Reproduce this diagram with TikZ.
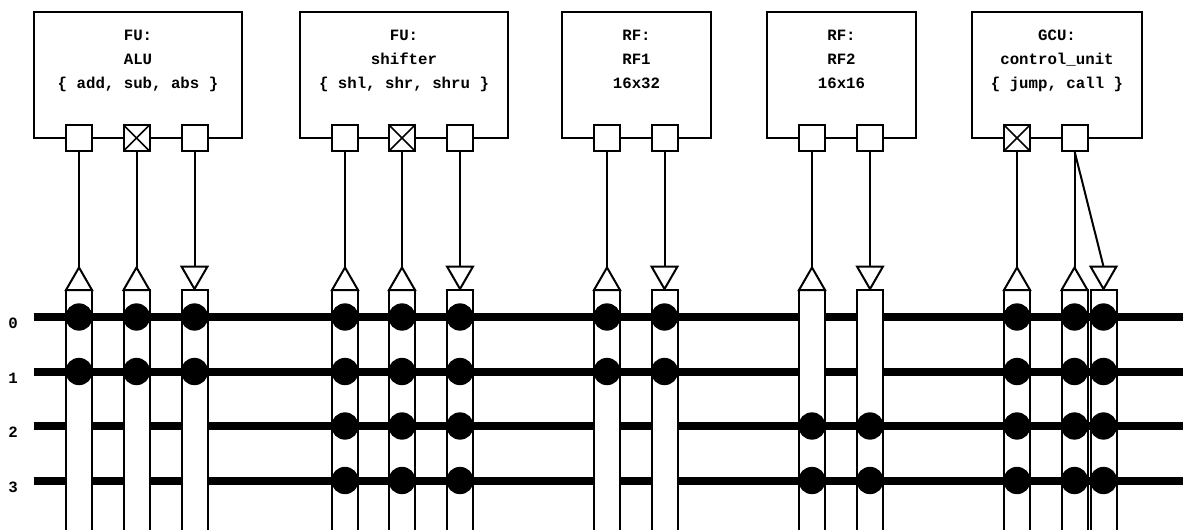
\documentclass[tikz,border=0pt]{standalone}
\usepackage{fontspec}
\setmonofont{Liberation Mono}
\usetikzlibrary{positioning,shapes.geometric}
\begin{document}
\begin{tikzpicture}[
  x=0.75pt, y=-0.75pt,
  font=\ttfamily\bfseries\fontsize{11.8}{18}\selectfont,
  unitbox/.style={draw, line width=1.5pt, fill=white, minimum height=94.5pt, outer sep=0pt, inner sep=0pt},
  unittext/.style={align=center, inner sep=0pt, anchor=north},
  port/.style={draw, line width=1.5pt, fill=white, minimum size=19.5pt, outer sep=0pt, inner sep=0pt},
  xport/.style={port, path picture={
      \draw[line width=1.1pt] (path picture bounding box.south west) -- (path picture bounding box.north east);
      \draw[line width=1.1pt] (path picture bounding box.north west) -- (path picture bounding box.south east);}},
  busbar/.style={draw, line width=1.5pt, fill=white, minimum width=19.5pt, minimum height=183pt, anchor=north, outer sep=0pt, inner sep=0pt},
  triup/.style={draw, line width=1.5pt, fill=white, regular polygon, regular polygon sides=3, minimum size=22.5pt, outer sep=0pt, inner sep=0pt},
  tridown/.style={triup, shape border rotate=180},
  dot/.style={circle, fill=black, minimum size=20.5pt, outer sep=0pt, inner sep=0pt},
  wire/.style={line width=1.5pt},
  row/.style={line width=6pt},
  rowlab/.style={inner sep=0pt},
]
  \useasboundingbox (0,0) rectangle (1183,529);
  \clip (0,0) rectangle (1183,529);
  \fill[white] (0,0) rectangle (1183,529);

  % instruction buses
  \foreach \r/\y in {0/317,1/371.5,2/426,3/480.5}{
    \node[rowlab] (lab\r) at (13,\y+6.5) {\r};
    \coordinate (w\r) at (33.5,\y);
    \coordinate (e\r) at (1183,\y);
    \draw[row] (w\r) -- (e\r);
  }

  % function units
  \node[unitbox, minimum width=156pt] (alu) at (138,74.5) {};
  \node[unittext] at (138,30) (alutext) {FU:\\ALU\\\{ add, sub, abs \}};
  \node[unitbox, minimum width=156pt] (shifter) at (404,74.5) {};
  \node[unittext] at (404,30) (shiftertext) {FU:\\shifter\\\{ shl, shr, shru \}};
  \node[unitbox, minimum width=111.75pt] (rf1) at (636.5,74.5) {};
  \node[unittext] at (636.5,30) (rf1text) {RF:\\RF1\\16x32};
  \node[unitbox, minimum width=111.75pt] (rf2) at (841.5,74.5) {};
  \node[unittext] at (841.5,30) (rf2text) {RF:\\RF2\\16x16};
  \node[unitbox, minimum width=127.5pt] (gcu) at (1057,74.5) {};
  \node[unittext] at (1057,30) (gcutext) {GCU:\\control\_unit\\\{ jump, call \}};

  % sockets
  \node[port]  (alu1) at (79,138) {};
  \node[xport] (alu2) at (136.5,138) {};
  \node[port]  (alu3) at (194.5,138) {};
  \node[port]  (sh1) at (345,138) {};
  \node[xport] (sh2) at (402,138) {};
  \node[port]  (sh3) at (460,138) {};
  \node[port]  (rfa1) at (607,138) {};
  \node[port]  (rfa2) at (664.5,138) {};
  \node[port]  (rfb1) at (812,138) {};
  \node[port]  (rfb2) at (870,138) {};
  \node[xport] (gc1) at (1017,138) {};
  \node[port]  (gc2) at (1074.5,138) {};

  % bars, dots and the links up to the sockets
  \foreach \n/\x/\kind/\ty/\anc/\p/\rows in {
    a/79/triup/282.5/corner 1/alu1/{317,371.5},
    b/136.5/triup/282.5/corner 1/alu2/{317,371.5},
    c/194.5/tridown/274/side 2/alu3/{317,371.5},
    d/345/triup/282.5/corner 1/sh1/{317,371.5,426,480.5},
    e/402/triup/282.5/corner 1/sh2/{317,371.5,426,480.5},
    f/460/tridown/274/side 2/sh3/{317,371.5,426,480.5},
    g/607/triup/282.5/corner 1/rfa1/{317,371.5},
    h/664.5/tridown/274/side 2/rfa2/{317,371.5},
    i/812/triup/282.5/corner 1/rfb1/{426,480.5},
    j/870/tridown/274/side 2/rfb2/{426,480.5},
    k/1017/triup/282.5/corner 1/gc1/{317,371.5,426,480.5},
    l/1074.5/triup/282.5/corner 1/gc2/{317,371.5,426,480.5},
    m/1103.5/tridown/274/side 2/gc2/{317,371.5,426,480.5}}{
    \node[busbar] (bar\n) at (\x,290) {};
    \foreach \y in \rows
      \node[dot] (dot\n\y) at (\x,\y) {};
    \node[\kind] (tri\n) at (\x,\ty) {};
    \draw[wire] (\p.south) -- (tri\n.\anc);
  }
\end{tikzpicture}
\end{document}
